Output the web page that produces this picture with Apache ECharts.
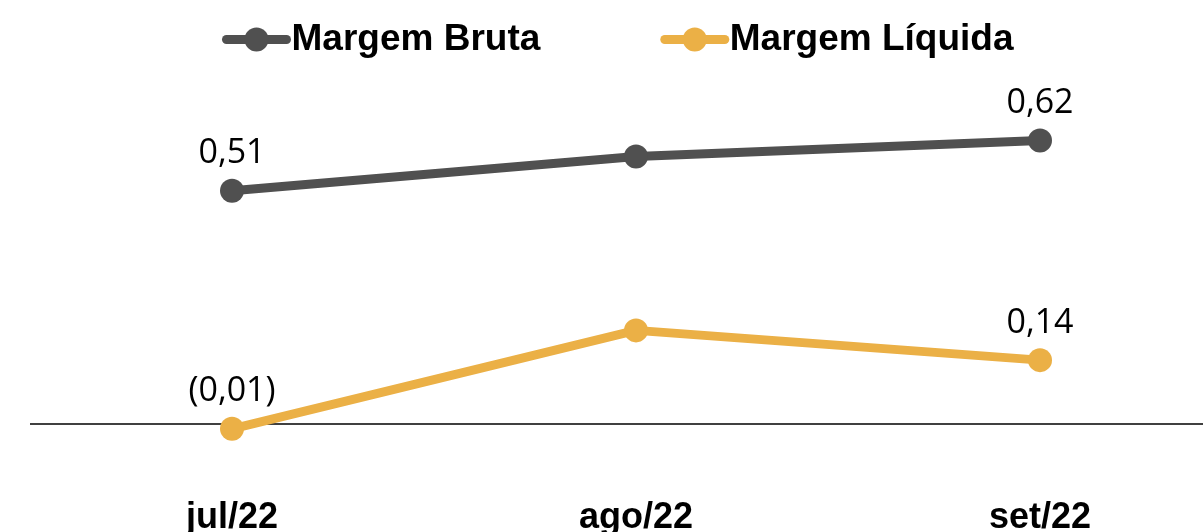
<!DOCTYPE html>
<html>
<head>
<meta charset="utf-8">
<script src="https://cdn.jsdelivr.net/npm/echarts@6/dist/echarts.min.js"></script>
<style>
  html, body { margin: 0; padding: 0; background: #fff; }
  #chart { width: 1203px; height: 532px; }
</style>
</head>
<body>
<div id="chart"></div>
<script>
// dados
const categories = ['jul/22', 'ago/22', 'set/22'];
const margemBruta = [0.51, 0.585, 0.62];
const margemLiquida = [-0.01, 0.205, 0.14];
const seriesNames = ['Margem Bruta', 'Margem Líquida'];
const colors = ['#505050', '#ebb046'];

// rótulos só no primeiro e no último mês, formato pt-BR
const fmt = (p) => {
  if (p.dataIndex === 1) return '';
  const s = Math.abs(p.value).toFixed(2).replace('.', ',');
  return p.value < 0 ? '(' + s + ')' : s;
};

const labelStyle = {
  show: true,
  position: 'top',
  distance: 8,
  formatter: fmt,
  fontFamily: 'Open Sans',
  fontSize: 34,
  color: '#000'
};

const mkSeries = (name, data, color, z) => ({
  name,
  type: 'line',
  data,
  symbol: 'circle',
  symbolSize: 24,
  lineStyle: { width: 9, color },
  itemStyle: { color },
  label: labelStyle,
  z
});

const series = [
  mkSeries(seriesNames[0], margemBruta, colors[0], 3),
  mkSeries(seriesNames[1], margemLiquida, colors[1], 2)
];
// linha do zero
series[1].markLine = {
  silent: true,
  symbol: 'none',
  z: 1,
  label: { show: false },
  lineStyle: { color: '#000', width: 1.5, type: 'solid' },
  data: [{ yAxis: 0 }]
};

const chart = echarts.init(document.getElementById('chart'));
chart.setOption({
  animation: false,
  legend: {
    data: seriesNames.map((n, i) => ({
      name: n,
      lineStyle: { width: 9, color: colors[i], cap: 'round' }
    })),
    left: 217,
    top: 16,
    itemWidth: 60,
    itemHeight: 30,
    itemGap: 120,
    textStyle: {
      fontFamily: 'Liberation Sans',
      fontWeight: 'bold',
      fontSize: 37,
      color: '#000'
    }
  },
  grid: { left: 30, width: 1212, top: 58, height: 412, outerBoundsMode: 'none' },
  xAxis: {
    type: 'category',
    data: categories,
    axisLine: { show: false, onZero: false },
    axisTick: { show: false },
    axisLabel: {
      margin: 30,
      fontFamily: 'Liberation Sans',
      fontWeight: 'bold',
      fontSize: 36,
      color: '#000'
    }
  },
  yAxis: {
    type: 'value',
    min: -0.1,
    max: 0.8,
    show: false,
    splitLine: { show: false }
  },
  series
});
</script>
</body>
</html>
